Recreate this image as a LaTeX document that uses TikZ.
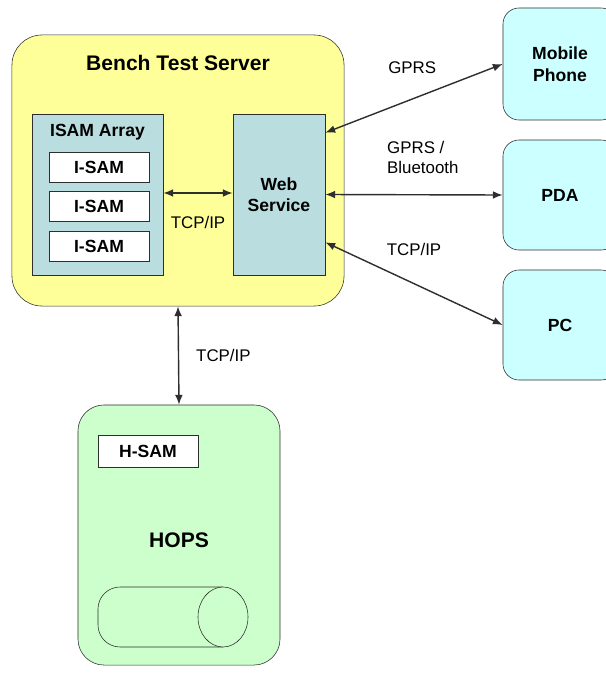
\documentclass[tikz,border=0pt]{standalone}
\usepackage{fontspec}
\setmainfont{Liberation Sans}
\usetikzlibrary{arrows.meta,positioning,shapes.geometric}

\definecolor{serveryellow}{HTML}{FFFF99}
\definecolor{devicecyan}{HTML}{CCFFFF}
\definecolor{panelteal}{HTML}{BADEDF}
\definecolor{hopsgreen}{HTML}{CCFFCC}
\definecolor{edgegray}{HTML}{2E2E2E}

\begin{document}
\begin{tikzpicture}[
  x=0.025cm, y=-0.025cm,
  font=\fontsize{12.5}{15}\selectfont,
  server/.style={draw=edgegray, fill=serveryellow, rounded corners=0.75cm, minimum width=8.3cm, minimum height=6.775cm},
  panel/.style={draw=edgegray, fill=panelteal, minimum width=#1, minimum height=4.025cm, align=center, font=\fontsize{12.5}{15}\selectfont\bfseries},
  samcell/.style={draw=edgegray, fill=white, minimum width=2.5cm, minimum height=#1, font=\fontsize{12.5}{15}\selectfont\bfseries},
  device/.style={draw=edgegray, fill=devicecyan, rounded corners=0.4cm, minimum width=2.85cm, minimum height=#1, align=center, font=\fontsize{12.5}{15.5}\selectfont\bfseries},
  hopsbox/.style={draw=edgegray, fill=hopsgreen, rounded corners=0.65cm, minimum width=5.05cm, minimum height=6.5cm},
  heading/.style={inner sep=0pt, font=\fontsize{15}{18}\selectfont\bfseries},
  lbl/.style={inner sep=0pt, align=left, font=\fontsize{12}{14.2}\selectfont},
  arrow/.style={{Latex[length=7pt,width=5.5pt]}-{Latex[length=7pt,width=5.5pt]}, line width=1pt, draw=edgegray}
]
\useasboundingbox (0,0) rectangle (605,677);

\node (server) [server] at (178,170.5) {};
\node (servertitle) [heading] at ([yshift=-0.7cm]server.north) {Bench Test Server};
\node (isam) [panel=3.275cm] at (97.5,194.5) {};
\node (isamtitle) [heading, font=\fontsize{12.5}{15}\selectfont\bfseries] at ([yshift=-0.45cm]isam.north) {ISAM Array};
\node (isam1) [samcell=0.75cm] at (99,167) {I-SAM};
\node (isam2) [samcell=0.75cm] at (99,206.5) {I-SAM};
\node (isam3) [samcell=0.75cm] at (99,246.5) {I-SAM};
\node (web) [panel=2.3cm] at (279,194.5) {Web\\Service};

\node (mobile) [device=2.8cm] at (560,64) {Mobile\\Phone};
\node (pda) [device=2.75cm] at (560,195) {PDA};
\node (pc) [device=2.75cm] at (560,325) {PC};

\node (hops) [hopsbox] at (179,535) {};
\node (hsam) [samcell=0.8cm] at (148,451) {H-SAM};
\node (hopstitle) [heading] at ([yshift=-0.125cm]hops.center) {HOPS};
\draw[edgegray, rounded corners=0.55cm] (223,587) -- (98,587) -- (98,647) -- (223,647);
\draw[edgegray, fill=hopsgreen] (223,617) ellipse [x radius=0.625cm, y radius=0.75cm];

\draw[arrow] (isam.east |- 0,193) -- node[lbl, yshift=-0.725cm] {TCP/IP} (web.west |- 0,193);
\draw[arrow] ([yshift=-0.475cm]web.north east) -- node[lbl, pos=0.49, yshift=0.775cm] {GPRS} (mobile.west);
\draw[arrow] (web.east) -- node[lbl, pos=0.55, yshift=0.925cm] {GPRS /\\Bluetooth} (pda.west);
\draw[arrow] ([yshift=0.825cm]web.south east) -- node[lbl, pos=0.5, yshift=0.85cm] {TCP/IP} (pc.west);
\draw[arrow] (server.south) -- node[lbl, right=0.425cm] {TCP/IP} (hops.north);

\end{tikzpicture}
\end{document}
